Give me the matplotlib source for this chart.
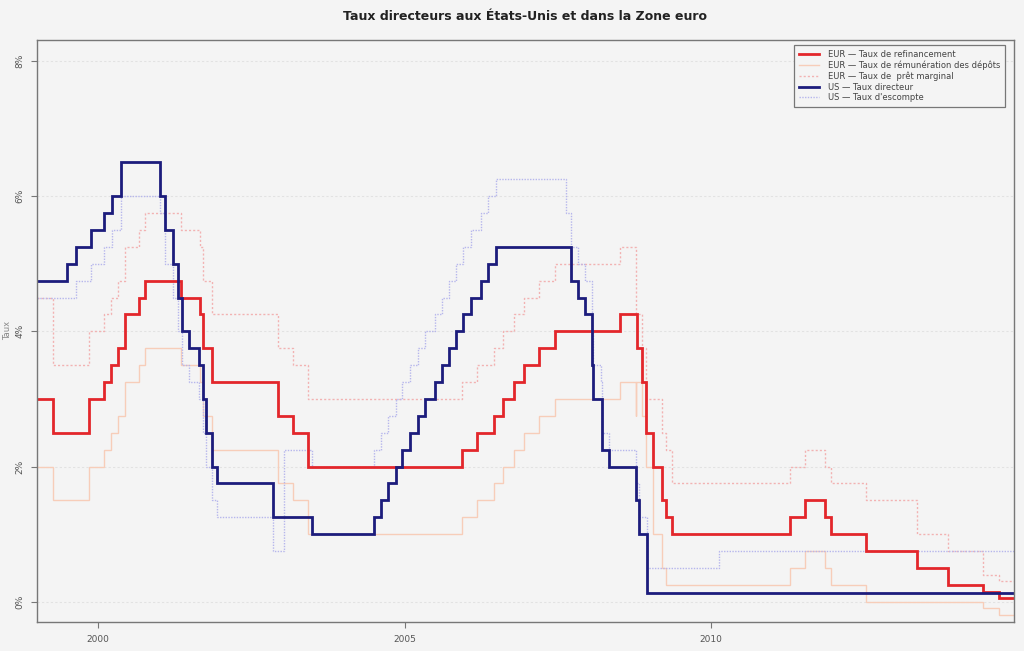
import matplotlib

matplotlib.use("Agg")
import matplotlib.pyplot as plt
import matplotlib.dates as mdates
import pandas as pd

BG = "#f4f4f4"
TEXT = "#555555"
END = "2014-12-10"

# BCE - taux de refinancement
refi_dates = [
    "1999-01-01", "1999-04-09", "1999-11-05", "2000-02-04", "2000-03-17", "2000-04-28",
    "2000-06-09", "2000-09-01", "2000-10-06", "2001-05-11", "2001-08-31", "2001-09-18",
    "2001-11-09", "2002-12-06", "2003-03-07", "2003-06-06", "2005-12-06", "2006-03-08",
    "2006-06-15", "2006-08-09", "2006-10-11", "2006-12-13", "2007-03-14", "2007-06-13",
    "2008-07-09", "2008-10-15", "2008-11-12", "2008-12-10", "2009-01-21", "2009-03-11",
    "2009-04-08", "2009-05-13", "2011-04-13", "2011-07-13", "2011-11-09", "2011-12-14",
    "2012-07-11", "2013-05-08", "2013-11-13", "2014-06-11", "2014-09-10",
]
refi_vals = [
    3.00, 2.50, 3.00, 3.25, 3.50, 3.75, 4.25, 4.50, 4.75, 4.50, 4.25, 3.75,
    3.25, 2.75, 2.50, 2.00, 2.25, 2.50, 2.75, 3.00, 3.25, 3.50, 3.75, 4.00,
    4.25, 3.75, 3.25, 2.50, 2.00, 1.50, 1.25, 1.00, 1.25, 1.50, 1.25, 1.00,
    0.75, 0.50, 0.25, 0.15, 0.05,
]

# BCE - facilité de dépôt
depot_dates = [
    "1999-01-01", "1999-04-09", "1999-11-05", "2000-02-04", "2000-03-17", "2000-04-28",
    "2000-06-09", "2000-09-01", "2000-10-06", "2001-05-11", "2001-08-31", "2001-09-18",
    "2001-11-09", "2002-12-06", "2003-03-07", "2003-06-06", "2005-12-06", "2006-03-08",
    "2006-06-15", "2006-08-09", "2006-10-11", "2006-12-13", "2007-03-14", "2007-06-13",
    "2008-07-09", "2008-10-08", "2008-10-09", "2008-11-12", "2008-12-10", "2009-01-21",
    "2009-03-11", "2009-04-08", "2011-04-13", "2011-07-13", "2011-11-09", "2011-12-14",
    "2012-07-11", "2014-06-11", "2014-09-10",
]
depot_vals = [
    2.00, 1.50, 2.00, 2.25, 2.50, 2.75, 3.25, 3.50, 3.75, 3.50, 3.25, 2.75,
    2.25, 1.75, 1.50, 1.00, 1.25, 1.50, 1.75, 2.00, 2.25, 2.50, 2.75, 3.00,
    3.25, 2.75, 3.25, 2.75, 2.00, 1.00, 0.50, 0.25, 0.50, 0.75, 0.50, 0.25,
    0.00, -0.10, -0.20,
]

# BCE - facilité de prêt marginal
marg_dates = [
    "1999-01-01", "1999-04-09", "1999-11-05", "2000-02-04", "2000-03-17", "2000-04-28",
    "2000-06-09", "2000-09-01", "2000-10-06", "2001-05-11", "2001-08-31", "2001-09-18",
    "2001-11-09", "2002-12-06", "2003-03-07", "2003-06-06", "2005-12-06", "2006-03-08",
    "2006-06-15", "2006-08-09", "2006-10-11", "2006-12-13", "2007-03-14", "2007-06-13",
    "2008-07-09", "2008-10-08", "2008-10-09", "2008-11-12", "2008-12-10", "2009-03-11",
    "2009-04-08", "2009-05-13", "2011-04-13", "2011-07-13", "2011-11-09", "2011-12-14",
    "2012-07-11", "2013-05-08", "2013-11-13", "2014-06-11", "2014-09-10",
]
marg_vals = [
    4.50, 3.50, 4.00, 4.25, 4.50, 4.75, 5.25, 5.50, 5.75, 5.50, 5.25, 4.75,
    4.25, 3.75, 3.50, 3.00, 3.25, 3.50, 3.75, 4.00, 4.25, 4.50, 4.75, 5.00,
    5.25, 4.75, 4.25, 3.75, 3.00, 2.50, 2.25, 1.75, 2.00, 2.25, 2.00, 1.75,
    1.50, 1.00, 0.75, 0.40, 0.30,
]

# Fed - taux directeur (fed funds target)
fed_dates = [
    "1999-01-01", "1999-06-30", "1999-08-24", "1999-11-16", "2000-02-02", "2000-03-21",
    "2000-05-16", "2001-01-03", "2001-01-31", "2001-03-20", "2001-04-18", "2001-05-15",
    "2001-06-27", "2001-08-21", "2001-09-17", "2001-10-02", "2001-11-06", "2001-12-11",
    "2002-11-06", "2003-06-25", "2004-06-30", "2004-08-10", "2004-09-21", "2004-11-10",
    "2004-12-14", "2005-02-02", "2005-03-22", "2005-05-03", "2005-06-30", "2005-08-09",
    "2005-09-20", "2005-11-01", "2005-12-13", "2006-01-31", "2006-03-28", "2006-05-10",
    "2006-06-29", "2007-09-18", "2007-10-31", "2007-12-11", "2008-01-22", "2008-01-30",
    "2008-03-18", "2008-04-30", "2008-10-08", "2008-10-29", "2008-12-16",
]
fed_vals = [
    4.75, 5.00, 5.25, 5.50, 5.75, 6.00, 6.50, 6.00, 5.50, 5.00, 4.50, 4.00,
    3.75, 3.50, 3.00, 2.50, 2.00, 1.75, 1.25, 1.00, 1.25, 1.50, 1.75, 2.00,
    2.25, 2.50, 2.75, 3.00, 3.25, 3.50, 3.75, 4.00, 4.25, 4.50, 4.75, 5.00,
    5.25, 4.75, 4.50, 4.25, 3.50, 3.00, 2.25, 2.00, 1.50, 1.00, 0.125,
]

# Fed - taux d'escompte
esc_dates = [
    "1999-01-01", "1999-08-24", "1999-11-16", "2000-02-02", "2000-03-21", "2000-05-16",
    "2001-01-04", "2001-01-31", "2001-03-20", "2001-04-18", "2001-05-15", "2001-06-27",
    "2001-08-21", "2001-09-17", "2001-10-02", "2001-11-06", "2001-12-11", "2002-11-06",
    "2003-01-09", "2003-06-25", "2004-06-30", "2004-08-10", "2004-09-21", "2004-11-10",
    "2004-12-14", "2005-02-02", "2005-03-22", "2005-05-03", "2005-06-30", "2005-08-09",
    "2005-09-20", "2005-11-01", "2005-12-13", "2006-01-31", "2006-03-28", "2006-05-10",
    "2006-06-29", "2007-08-17", "2007-09-18", "2007-10-31", "2007-12-11", "2008-01-22",
    "2008-01-30", "2008-03-17", "2008-03-18", "2008-04-30", "2008-10-08", "2008-10-29",
    "2008-12-16", "2010-02-19",
]
esc_vals = [
    4.50, 4.75, 5.00, 5.25, 5.50, 6.00, 5.75, 5.00, 4.50, 4.00, 3.50, 3.25,
    3.00, 2.50, 2.00, 1.50, 1.25, 0.75, 2.25, 2.00, 2.25, 2.50, 2.75, 3.00,
    3.25, 3.50, 3.75, 4.00, 4.25, 4.50, 4.75, 5.00, 5.25, 5.50, 5.75, 6.00,
    6.25, 5.75, 5.25, 5.00, 4.75, 4.00, 3.50, 3.25, 2.50, 2.25, 1.75, 1.25,
    0.50, 0.75,
]

series = [
    ("EUR — Taux de rémunération des dépôts", depot_dates, depot_vals,
     dict(color="#f7cdb9", lw=1.0, ls="-")),
    ("EUR — Taux de  prêt marginal", marg_dates, marg_vals,
     dict(color="#f2b2b2", lw=1.0, ls=(0, (1.5, 1.5)))),
    ("US — Taux d'escompte", esc_dates, esc_vals,
     dict(color="#b6b6ec", lw=1.0, ls=(0, (1, 1)))),
    ("EUR — Taux de refinancement", refi_dates, refi_vals,
     dict(color="#e3262b", lw=2.0, ls="-")),
    ("US — Taux directeur", fed_dates, fed_vals,
     dict(color="#1c1c7c", lw=2.0, ls="-")),
]


def step_series(dates, vals):
    x = pd.to_datetime(list(dates) + [END])
    y = list(vals) + [vals[-1]]
    return x, y


fig = plt.figure(figsize=(10.24, 6.51), dpi=100, facecolor=BG)
ax = fig.add_axes([37 / 1024, 1 - 622 / 651, (1014 - 37) / 1024, (622 - 40) / 651])
ax.set_facecolor(BG)

handles = {}
for label, dates, vals, style in series:
    x, y = step_series(dates, vals)
    (ln,) = ax.plot(x, y, drawstyle="steps-post", solid_joinstyle="miter", **style)
    handles[label] = ln

ax.set_xlim(pd.Timestamp("1999-01-01"), pd.Timestamp(END))
ax.set_ylim(-0.3, 8.31)

yticks = [0, 2, 4, 6, 8]
ax.set_yticks(yticks)
ax.set_yticklabels([f"{v}%" for v in yticks], rotation=90, va="center")
for v in yticks:
    ax.axhline(v, color="#e2e2e2", lw=0.8, ls=(0, (2, 2)), zorder=0)

ax.xaxis.set_major_locator(mdates.YearLocator(5))
ax.xaxis.set_major_formatter(mdates.DateFormatter("%Y"))

ax.tick_params(axis="both", colors="#777777", labelcolor=TEXT, labelsize=6.5,
               length=4, width=0.8, direction="out")
ax.tick_params(axis="y", pad=5)
ax.tick_params(axis="x", pad=5)
for sp in ax.spines.values():
    sp.set_color("#777777")
    sp.set_linewidth(1.0)

fig.text(8 / 1024, 1 - 330 / 651, "Taux", rotation=90, ha="center", va="center",
         fontsize=6, color="#888888")
fig.text(525 / 1024, 1 - 17 / 651, "Taux directeurs aux États-Unis et dans la Zone euro",
         ha="center", va="center", fontsize=9, fontweight="bold", color="#222222")

order = [
    "EUR — Taux de refinancement",
    "EUR — Taux de rémunération des dépôts",
    "EUR — Taux de  prêt marginal",
    "US — Taux directeur",
    "US — Taux d'escompte",
]
leg = ax.legend([handles[k] for k in order], order, loc="upper right",
                bbox_to_anchor=(0.991, 0.9914), borderaxespad=0, fontsize=6.0,
                handlelength=2.4, labelspacing=0.18, borderpad=0.6, handletextpad=1.0,
                fancybox=False, framealpha=1.0, facecolor=BG, edgecolor="#777777")
leg.get_frame().set_linewidth(0.9)
for t in leg.get_texts():
    t.set_color("#444444")

fig.savefig("out.png", dpi=100, facecolor=BG)
